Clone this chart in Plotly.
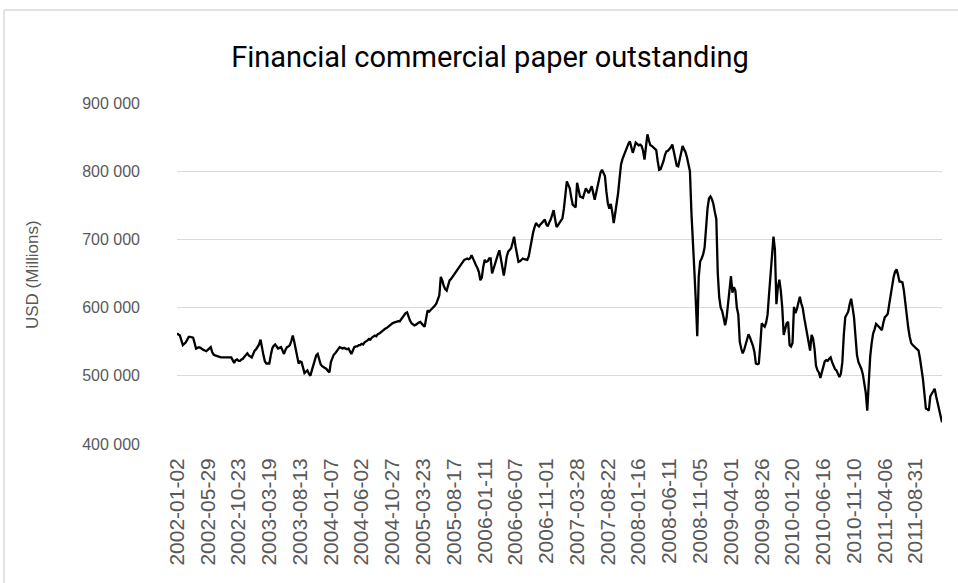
import pandas as pd
import plotly.graph_objects as go

start_date = "2002-01-02"

# Weekly financial commercial paper outstanding, USD millions
values = [
    562000, 560000, 559000, 552000, 545000, 547000, 549000, 553000, 557000, 557000,
    556000, 556000, 548000, 540000, 541000, 542000, 541000, 539000, 538000, 537000,
    536000, 538000, 540000, 542000, 535000, 531000, 530000, 529000, 528000, 528000,
    527000, 527000, 527000, 526000, 527000, 526000, 526000, 527000, 523000, 519000,
    523000, 524000, 522000, 522000, 524000, 525000, 528000, 531000, 533000, 530000,
    528000, 527000, 532000, 537000, 539000, 542000, 546000, 553000, 540000, 530000,
    521000, 518000, 518000, 518000, 530000, 540000, 544000, 546000, 543000, 540000,
    541000, 542000, 537000, 532000, 538000, 542000, 543000, 545000, 551000, 559000,
    550000, 540000, 526000, 518000, 521000, 520000, 512000, 504000, 506000, 508000,
    503000, 500000, 508000, 515000, 522000, 530000, 532000, 522000, 517000, 514000,
    513000, 511000, 510000, 507000, 505000, 520000, 527000, 531000, 533000, 536000,
    540000, 542000, 541000, 540000, 541000, 540000, 539000, 540000, 536000, 532000,
    537000, 542000, 543000, 543000, 545000, 545000, 547000, 546000, 549000, 550000,
    552000, 554000, 553000, 556000, 557000, 559000, 558000, 561000, 562000, 564000,
    566000, 568000, 569000, 570000, 572000, 573000, 575000, 577000, 578000, 579000,
    580000, 580000, 580000, 583000, 586000, 589000, 592000, 593000, 586000, 581000,
    577000, 575000, 574000, 575000, 577000, 578000, 579000, 576000, 574000, 572000,
    585000, 596000, 594000, 596000, 598000, 601000, 603000, 606000, 611000, 618000,
    645000, 640000, 632000, 627000, 625000, 633000, 640000, 642000, 645000, 648000,
    651000, 655000, 658000, 660000, 664000, 667000, 670000, 671000, 672000, 671000,
    672000, 677000, 671000, 665000, 662000, 658000, 652000, 640000, 644000, 660000,
    670000, 667000, 668000, 672000, 672000, 650000, 658000, 666000, 672000, 678000,
    684000, 670000, 656000, 647000, 660000, 675000, 682000, 685000, 687000, 695000,
    704000, 690000, 676000, 667000, 668000, 670000, 672000, 671000, 670000, 670000,
    675000, 688000, 699000, 710000, 718000, 724000, 721000, 719000, 722000, 724000,
    726000, 729000, 722000, 719000, 725000, 729000, 736000, 743000, 730000, 718000,
    721000, 724000, 728000, 731000, 745000, 768000, 785000, 780000, 775000, 762000,
    751000, 749000, 747000, 783000, 770000, 763000, 762000, 761000, 768000, 775000,
    771000, 768000, 773000, 778000, 768000, 758000, 768000, 778000, 790000, 798000,
    802000, 798000, 793000, 770000, 753000, 745000, 752000, 740000, 724000, 738000,
    752000, 768000, 790000, 810000, 818000, 824000, 830000, 836000, 840000, 844000,
    835000, 827000, 834000, 842000, 840000, 838000, 839000, 837000, 830000, 817000,
    836000, 854000, 845000, 838000, 837000, 835000, 834000, 831000, 815000, 802000,
    803000, 808000, 815000, 824000, 829000, 830000, 832000, 835000, 839000, 828000,
    815000, 808000, 807000, 818000, 830000, 837000, 832000, 828000, 820000, 812000,
    800000, 740000, 685000, 655000, 610000, 558000, 645000, 668000, 672000, 678000,
    688000, 720000, 745000, 760000, 763000, 759000, 752000, 740000, 730000, 650000,
    615000, 600000, 595000, 585000, 574000, 585000, 605000, 620000, 646000, 622000,
    630000, 625000, 600000, 590000, 550000, 540000, 533000, 538000, 545000, 552000,
    561000, 556000, 551000, 544000, 535000, 518000, 517000, 518000, 545000, 577000,
    574000, 572000, 578000, 590000, 620000, 650000, 680000, 704000, 685000, 605000,
    630000, 641000, 625000, 600000, 560000, 570000, 577000, 579000, 545000, 543000,
    548000, 601000, 592000, 598000, 610000, 616000, 606000, 599000, 585000, 572000,
    563000, 550000, 537000, 560000, 555000, 540000, 515000, 508000, 505000, 497000,
    505000, 515000, 521000, 523000, 522000, 525000, 527000, 520000, 514000, 510000,
    508000, 502000, 498000, 503000, 520000, 560000, 586000, 590000, 594000, 605000,
    613000, 600000, 585000, 557000, 530000, 520000, 516000, 510000, 502000, 490000,
    475000, 449000, 500000, 528000, 548000, 562000, 568000, 576000, 574000, 572000,
    570000, 567000, 578000, 586000, 588000, 591000, 605000, 620000, 630000, 645000,
    653000, 656000, 648000, 638000, 638000, 637000, 625000, 605000, 590000, 570000,
    557000, 548000, 545000, 543000, 542000, 540000, 537000, 525000, 513000, 495000,
    474000, 452000, 451000, 449000, 470000, 474000, 478000, 481000, 470000, 461000,
    448000, 440000, 432000,
]

tick_labels = [
    "2002-01-02", "2002-05-29", "2002-10-23", "2003-03-19", "2003-08-13",
    "2004-01-07", "2004-06-02", "2004-10-27", "2005-03-23", "2005-08-17",
    "2006-01-11", "2006-06-07", "2006-11-01", "2007-03-28", "2007-08-22",
    "2008-01-16", "2008-06-11", "2008-11-05", "2009-04-01", "2009-08-26",
    "2010-01-20", "2010-06-16", "2010-11-10", "2011-04-06", "2011-08-31",
]

y_ticks = [400000, 500000, 600000, 700000, 800000, 900000]

dates = pd.date_range(start_date, periods=len(values), freq="7D").strftime("%Y-%m-%d").tolist()

W, H = 958, 583
L, R, T, B = 177, 16, 103, 139
pw = W - L - R
ph = H - T - B

fig = go.Figure()
fig.add_trace(go.Scatter(
    x=dates, y=values, mode="lines",
    line=dict(color="#000000", width=2.3),
    hoverinfo="x+y",
))

fig.update_layout(
    width=W, height=H,
    margin=dict(l=L, r=R, t=T, b=B, pad=0),
    paper_bgcolor="white", plot_bgcolor="white",
    showlegend=False,
    separators=". ",
    title=dict(
        text="Financial commercial paper outstanding",
        x=490 / W, xanchor="center", xref="container",
        y=1 - 57 / H, yanchor="middle", yref="container",
        font=dict(family="Roboto, sans-serif", size=29, color="#000000"),
    ),
    xaxis=dict(
        type="category",
        range=[0, len(values) - 1],
        tickmode="array", tickvals=tick_labels, ticktext=tick_labels,
        tickangle=-90,
        showgrid=False, zeroline=False, showline=False,
        ticks="", ticklabelstandoff=9,
        tickfont=dict(family="Liberation Sans, Arial, sans-serif", size=21, color="#595959"),
    ),
    yaxis=dict(
        range=[400000, 900000],
        tickmode="array", tickvals=y_ticks,
        tickformat=",d",
        showgrid=True, gridcolor="#d9d9d9", gridwidth=1.3,
        zeroline=False, showline=False, ticks="",
        ticklabelstandoff=36,
        tickfont=dict(family="Liberation Sans, Arial, sans-serif", size=16, color="#595959"),
    ),
    annotations=[dict(
        text="USD (Millions)", textangle=-90,
        xref="paper", yref="paper",
        x=(32 - L) / pw, y=(H - B - 275) / ph,
        xanchor="center", yanchor="middle", showarrow=False,
        font=dict(family="Liberation Sans, Arial, sans-serif", size=17, color="#595959"),
    )],
    shapes=[
        dict(type="line", xref="paper", yref="paper",
             x0=(4 - L) / pw, x1=(W - L) / pw, y0=(H - B - 10) / ph, y1=(H - B - 10) / ph,
             line=dict(color="#d9d9d9", width=1.5)),
        dict(type="line", xref="paper", yref="paper",
             x0=(4 - L) / pw, x1=(4 - L) / pw, y0=(H - B - 10) / ph, y1=-B / ph,
             line=dict(color="#d9d9d9", width=1.5)),
    ],
)

fig.write_html("out.html", config={"displayModeBar": False},
               post_script="document.body.style.margin='0';")
